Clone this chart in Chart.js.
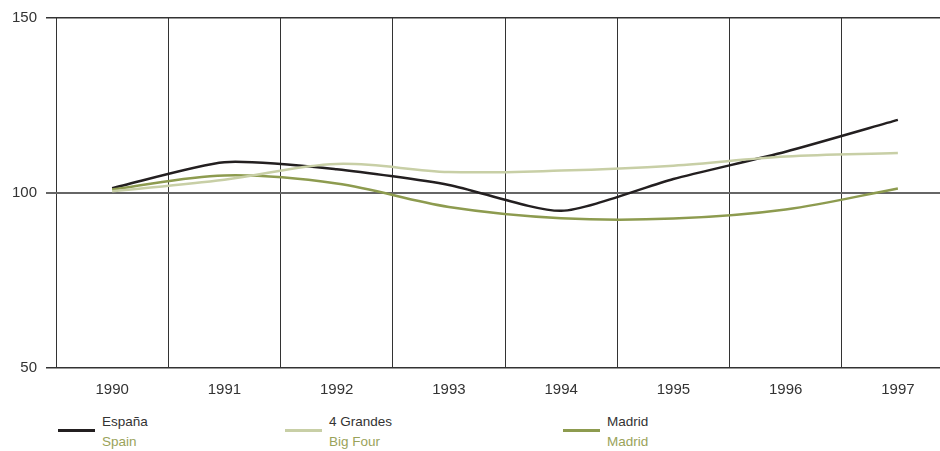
<!DOCTYPE html>
<html>
<head>
<meta charset="utf-8">
<script src="https://cdn.jsdelivr.net/npm/chart.js@4"></script>
<style>
  body { margin: 0; background: #fff; font-family: "Liberation Sans", Arial, sans-serif; }
  #wrap { position: relative; width: 940px; height: 451px; overflow: hidden; }
  #chartBox { position: absolute; left: 0; top: 0; width: 960px; height: 412px; }
  .leg { position: absolute; top: 412px; font-size: 13.5px; line-height: 20px; }
  .leg .swatch { position: absolute; left: 0; top: 17px; width: 37px; height: 3px; }
  .leg .es { position: absolute; left: 44px; top: 0; color: #333; white-space: nowrap; }
  .leg .en { position: absolute; left: 44px; top: 20px; white-space: nowrap; }
</style>
</head>
<body>
<div id="wrap">
  <div id="chartBox"><canvas id="myChart" width="960" height="412"></canvas></div>
  <div id="legend"></div>
</div>
<script>
var years = ['1990', '1991', '1992', '1993', '1994', '1995', '1996', '1997'];
var yTicks = [50, 100, 150];

var espana = [101.4, 108.8, 106.8, 102.3, 94.9, 104.0, 111.8, 120.9];
var grandes = [100.5, 103.8, 108.3, 106.0, 106.4, 107.8, 110.4, 111.4];
var madrid = [101.0, 105.0, 102.7, 96.0, 92.8, 92.7, 95.3, 101.3];

var labelsEs = ['España', '4 Grandes', 'Madrid'];
var labelsEn = ['Spain', 'Big Four', 'Madrid'];

var colors = ['#231f20', '#c8cfa6', '#8d9b4f'];
var legendX = [58, 285, 563];
var fontFam = '"Liberation Sans", Arial, sans-serif';

var ctx = document.getElementById('myChart').getContext('2d');
var myChart = new Chart(ctx, {
    type: 'line',
    data: {
        labels: years,
        datasets: [{
            label: labelsEs[1],
            data: grandes,
            borderColor: colors[1],
            borderWidth: 2.5,
            pointRadius: 0,
            tension: 0.35
        },
        {
            label: labelsEs[2],
            data: madrid,
            borderColor: colors[2],
            borderWidth: 2.5,
            pointRadius: 0,
            tension: 0.35
        },
        {
            label: labelsEs[0],
            data: espana,
            borderColor: colors[0],
            borderWidth: 2.5,
            pointRadius: 0,
            tension: 0.22
        }]
    },
    options: {
        responsive: false,
        animation: false,
        layout: { padding: { top: 18, right: 6, left: 0, bottom: 0 } },
        plugins: {
            legend: { display: false },
            tooltip: { enabled: false }
        },
        scales: {
            x: {
                offset: true,
                grid: {
                    offset: true,
                    color: '#333',
                    lineWidth: 1,
                    drawTicks: false
                },
                border: { display: false },
                ticks: {
                    color: '#333',
                    padding: 13,
                    font: { size: 15, family: fontFam }
                }
            },
            y: {
                min: 50,
                max: 150,
                afterFit: function (axis) { axis.width = 56; },
                afterBuildTicks: function (axis) {
                    axis.ticks = yTicks.map(function (v) { return { value: v }; });
                },
                grid: {
                    color: function (c) { return c.tick && c.tick.value === 100 ? '#666' : '#333'; },
                    lineWidth: function (c) { return c.tick && c.tick.value === 100 ? 2 : 1.5; },
                    tickLength: 10
                },
                border: { display: false },
                ticks: {
                    color: '#333',
                    padding: 9,
                    font: { size: 15, family: fontFam }
                }
            }
        }
    }
});

var legend = document.getElementById('legend');
for (var i = 0; i < labelsEs.length; i++) {
    var item = document.createElement('div');
    item.className = 'leg';
    item.style.left = legendX[i] + 'px';
    item.innerHTML = '<div class="swatch" style="background:' + colors[i] + '"></div>' +
        '<div class="es">' + labelsEs[i] + '</div>' +
        '<div class="en" style="color:#9aa35a">' + labelsEn[i] + '</div>';
    legend.appendChild(item);
}
</script>
</body>
</html>
